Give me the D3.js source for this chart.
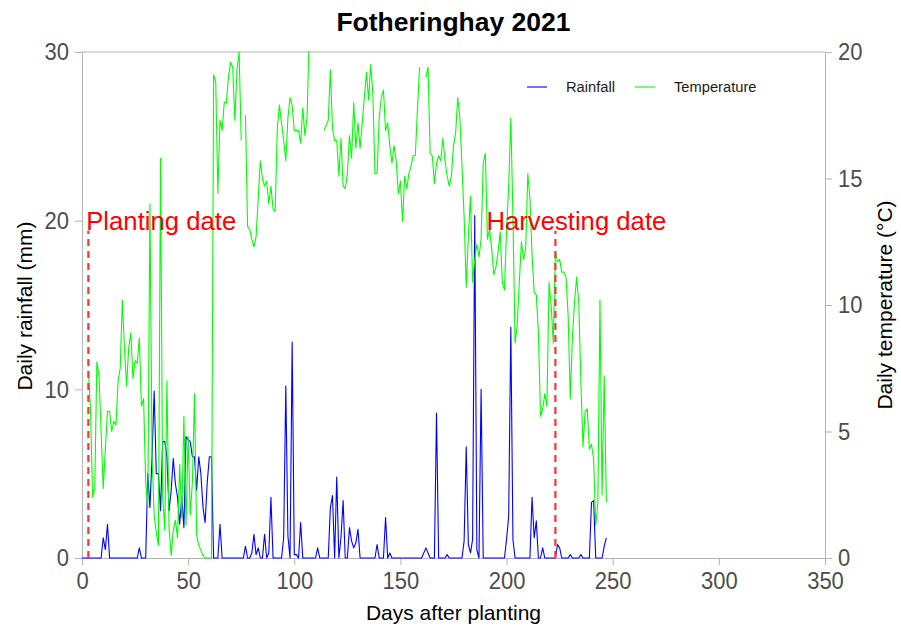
<!DOCTYPE html>
<html>
<head>
<meta charset="utf-8">
<script src="https://cdn.jsdelivr.net/npm/d3@7/dist/d3.min.js"></script>
<style>
  body { margin: 0; background: #ffffff; }
  svg { display: block; }
  text { font-family: "Liberation Sans", Arial, Helvetica, sans-serif; }
  .tall { transform-box: fill-box; transform-origin: center; transform: scaleY(1.1); }
</style>
</head>
<body>
<svg id="chart" width="901" height="632"></svg>
<script>
// Daily rainfall (mm), one value per day after planting, starting at day 0
const rainfallStartDay = 0;
const rainfall = [
  0, 0, 0, 0, 0, 0, 0, 0, 0, 0,
  1.2, 0.5, 2.0, 0, 0, 0, 0, 0, 0, 0,
  0, 0, 0, 0, 0, 0, 0, 0.6, 0, 0,
  0, 5.0, 3.0, 6.0, 9.9, 5.0, 5.0, 2.8, 6.9, 6.9,
  6.0, 2.8, 4.0, 5.9, 4.4, 3.6, 2.0, 3.6, 1.8, 7.2,
  7.0, 6.9, 6.0, 6.0, 4.0, 6.0, 5.0, 3.0, 2.1, 4.5,
  6.0, 6.0, 0, 0, 0, 2.0, 0, 0, 0, 0,
  0, 0, 0, 0, 0, 0, 0, 0.7, 0, 0,
  0.3, 1.4, 0.2, 0.6, 0, 0, 1.4, 0, 0.3, 3.6,
  0, 0, 0, 0, 0, 1.2, 10.2, 1.3, 0, 12.8,
  0.2, 0.2, 0, 2.1, 0, 0, 0, 0, 0, 0,
  0, 0.6, 0, 0, 0, 0, 0, 3.0, 3.7, 0,
  4.8, 0, 1.2, 3.4, 0, 0, 1.8, 1.0, 0.6, 0.9,
  1.7, 0, 0, 0, 0, 0, 0, 0, 0, 0.8,
  0, 0, 0, 2.4, 0, 0.3, 0, 0, 0, 0,
  0, 0, 0, 0, 0, 0, 0, 0, 0, 0,
  0, 0.3, 0.6, 0.3, 0, 0, 0, 8.6, 0, 0,
  0, 0, 0.2, 0, 0, 0, 0, 0, 0, 0,
  1.0, 6.6, 0.8, 0.3, 1.1, 20.3, 0.5, 0, 10.0, 0,
  0, 0, 0, 0, 0, 0, 0, 0, 0, 0,
  1.1, 2.5, 13.7, 1.1, 0, 0, 0, 0, 0, 0,
  0, 0, 3.6, 1.2, 2.2, 0, 0, 0.6, 0, 0,
  0, 0, 0, 0, 0.8, 0.6, 0, 0, 0, 0,
  0.2, 0, 0, 0, 0, 0.2, 0, 0, 0, 0,
  3.3, 3.4, 0, 0, 0, 0, 0.7, 1.2
];

// Daily mean temperature (°C), starting at day 3; null = no record
const temperatureStartDay = 3;
const temperature = [
  7.4, 5.9, 2.4, 2.75, 7.75, 7.2, 5.0,
  2.75, 4.3, 5.8, 5.8, 5.0, 5.4, 5.25, 7.0, 7.5, 10.2,
  8.3, 6.8, 8.3, 8.9, 7.1, 7.8, 7.7, 8.7, 6.0, 6.3,
  3.0, 2.0, 14.0, 4.0, 1.7, 1.0, 0.5, 15.8, 2.4, 1.1,
  7.0, 1.2, 0.1, 1.1, 1.5, 0.8, 3.7, 1.6, 5.6, 1.3,
  4.8, 1.7, 3.0, 6.5, 0.9, 0.5, 0.3, 0.1, 0, 0,
  0, 0, 19.1, 18.8, 14.4, 17.3, 16.9, 18.0, 18.0, 19.0,
  19.6, 19.4, 17.3, 19.3, 20.0, 16.5, null, 17.5, 13.1, 13.0,
  12.6, 12.3, 12.7, 14.2, 15.7, 15.0, 14.7, 14.9, 14.0, 14.7,
  13.8, 13.7, 17.0, 17.9, 17.2, 16.5, 15.7, 17.4, 18.2, 17.9,
  16.9, 16.9, 16.9, 16.4, 17.8, 16.7, 17.4, 20.5, null, null,
  null, null, null, null, 16.9, 17.1, 17.3, 19.3, 17.0, 16.5,
  16.5, 15.1, 16.6, 14.7, 14.6, 15.2, 16.7, 15.8, 18.0, 16.2,
  17.2, 16.2, 17.2, 18.2, 19.2, 18.1, 19.5, 18.4, 15.2, 15.2,
  17.4, 18.2, 18.5, 16.9, 17.2, 16.3, 15.6, 16.3, 15.7, 14.4,
  14.9, 13.3, 15.1, 14.6, 15.2, 15.5, 15.9, 15.9, 17.7, 19.4,
  null, null, 19.0, 19.4, 16.0, 15.9, 14.8, 15.6, 15.9, 15.7,
  16.6, 15.7, 15.1, 14.7, 15.1, 16.3, 16.8, 18.2, 17.4, 15.5,
  13.5, 10.7, 12.7, 14.3, 10.9, 11.8, 12.4, 11.9, 12.6, 15.6,
  16.0, 12.6, 13.0, 12.2, 11.2, 11.5, 12.1, 12.9, 10.9, 10.6,
  13.0, 14.7, 17.4, 13.5, 8.5, 9.2, 10.9, 12.5, 11.8, 12.2,
  15.2, 14.2, 12.0, 10.5, 10.4, 8.9, 5.6, 5.9, 6.5, 6.0,
  10.9, 10.0, 8.5, 12.1, 11.7, 11.8, 11.3, 11.3, 11.1, 9.6,
  6.3, 8.7, 10.1, 11.1, 10.1, 7.0, 4.4, 5.8, 5.9, 4.3,
  4.5, 3.9, 1.3, 2.2, 10.2, 2.5, 7.2, 2.2
];

// Crop calendar markers (days after planting)
const plantingDay = 3;
const harvestDay = 223;
const markerTop = 19.4;          // dashed marker height, in rainfall units
const labelLevel = 20;           // annotation level, in rainfall units
const plantingLabelDay = 2;
const harvestLabelDay = 190.5;

// Axis ticks
const dayTicks = [0, 50, 100, 150, 200, 250, 300, 350];
const rainTicks = [0, 10, 20, 30];
const tempTicks = [0, 5, 10, 15, 20];

const seriesNames = ["Rainfall", "Temperature"];
const seriesColors = ["#0000ff", "#00ff00"];

// ---------------------------------------------------------------
const svg = d3.select("#chart");
const plot = { left: 82, right: 825, top: 52, bottom: 558 };

const x = d3.scaleLinear().domain([0, 350]).range([plot.left, plot.right]);
const yRain = d3.scaleLinear().domain([0, 30]).range([plot.bottom, plot.top]);
const yTemp = d3.scaleLinear().domain([0, 20]).range([plot.bottom, plot.top]);

const rainData = rainfall.map((v, i) => ({ day: rainfallStartDay + i, v }));
const tempData = temperature.map((v, i) => ({ day: temperatureStartDay + i, v }));

svg.append("defs").append("clipPath").attr("id", "plot-clip")
  .append("rect")
  .attr("x", plot.left).attr("y", plot.top - 1)
  .attr("width", plot.right - plot.left).attr("height", plot.bottom - plot.top + 2);

const axisColor = "#b3b3b3";
const tickTextColor = "#4d4d4d";

// Frame top edge
svg.append("line")
  .attr("x1", plot.left).attr("x2", plot.right)
  .attr("y1", plot.top).attr("y2", plot.top)
  .attr("stroke", axisColor).attr("stroke-width", 1);

function styleAxis(g) {
  g.select(".domain").attr("stroke", axisColor).attr("stroke-width", 1);
  g.selectAll(".tick line").attr("stroke", axisColor).attr("stroke-width", 1);
  g.selectAll(".tick text")
    .attr("class", "tall")
    .attr("fill", tickTextColor)
    .style("font-size", "22px")
    .style("font-family", "'Liberation Sans', Arial, sans-serif");
}

svg.append("g")
  .attr("transform", `translate(0,${plot.bottom})`)
  .call(d3.axisBottom(x).tickValues(dayTicks).tickSize(7).tickSizeOuter(0).tickPadding(8))
  .call(styleAxis);

svg.append("g")
  .attr("transform", `translate(${plot.left},0)`)
  .call(d3.axisLeft(yRain).tickValues(rainTicks).tickSize(7).tickSizeOuter(0).tickPadding(6))
  .call(styleAxis);

svg.append("g")
  .attr("transform", `translate(${plot.right},0)`)
  .call(d3.axisRight(yTemp).tickValues(tempTicks).tickSize(7).tickSizeOuter(0).tickPadding(6))
  .call(styleAxis);

// Series
const lines = svg.append("g").attr("clip-path", "url(#plot-clip)");

const rainLine = d3.line()
  .x(d => x(d.day)).y(d => yRain(d.v));
const tempLine = d3.line()
  .defined(d => d.v !== null)
  .x(d => x(d.day)).y(d => yTemp(d.v));

lines.append("path").datum(rainData)
  .attr("d", rainLine)
  .attr("fill", "none").attr("stroke", seriesColors[0]).attr("stroke-width", 1.1)
  .attr("stroke-linejoin", "round");

lines.append("path").datum(tempData)
  .attr("d", tempLine)
  .attr("fill", "none").attr("stroke", seriesColors[1]).attr("stroke-width", 1.1)
  .attr("stroke-linejoin", "round");

// Planting / harvesting markers
const markers = [
  { day: plantingDay, labelDay: plantingLabelDay, text: "Planting date" },
  { day: harvestDay, labelDay: harvestLabelDay, text: "Harvesting date" }
];
const mk = svg.append("g");
mk.selectAll("line").data(markers).join("line")
  .attr("x1", d => x(d.day)).attr("x2", d => x(d.day))
  .attr("y1", yRain(0)).attr("y2", yRain(markerTop))
  .attr("stroke", "#ff3333").attr("stroke-width", 2.2)
  .attr("stroke-dasharray", "7,5");
mk.selectAll("text").data(markers).join("text")
  .attr("x", d => x(d.labelDay)).attr("y", yRain(labelLevel))
  .attr("dy", "0.35em")
  .attr("fill", "#ff0000")
  .style("font-size", "25.7px")
  .text(d => d.text);

// Title
svg.append("text")
  .attr("x", (plot.left + plot.right) / 2).attr("y", 31)
  .attr("text-anchor", "middle")
  .style("font-size", "26.5px").style("font-weight", "bold")
  .attr("fill", "#000")
  .text("Fotheringhay 2021");

// Axis titles
svg.append("text")
  .attr("x", (plot.left + plot.right) / 2).attr("y", 620)
  .attr("text-anchor", "middle")
  .style("font-size", "21px").attr("fill", "#000")
  .text("Days after planting");

svg.append("text")
  .attr("transform", `translate(32,${(plot.top + plot.bottom) / 2 + 1}) rotate(-90)`)
  .attr("text-anchor", "middle")
  .style("font-size", "21px").attr("fill", "#000")
  .text("Daily rainfall (mm)");

svg.append("text")
  .attr("transform", `translate(892,${(plot.top + plot.bottom) / 2}) rotate(-90)`)
  .attr("text-anchor", "middle")
  .style("font-size", "21px").attr("fill", "#000")
  .text("Daily temperature (°C)");

// Legend
const legend = svg.append("g").attr("transform", "translate(527,87)");
const legendOffsets = [0, 108];
const items = legend.selectAll("g").data(seriesNames).join("g")
  .attr("transform", (d, i) => `translate(${legendOffsets[i]},0)`);
items.append("line")
  .attr("x1", 0).attr("x2", 20).attr("y1", 0).attr("y2", 0)
  .attr("stroke", (d, i) => seriesColors[i]).attr("stroke-width", 2)
  .attr("stroke-opacity", 0.55);
items.append("text")
  .attr("x", 39).attr("y", 0).attr("dy", "0.36em")
  .style("font-size", "14.7px").attr("fill", "#1a1a1a")
  .text(d => d);
</script>
</body>
</html>
